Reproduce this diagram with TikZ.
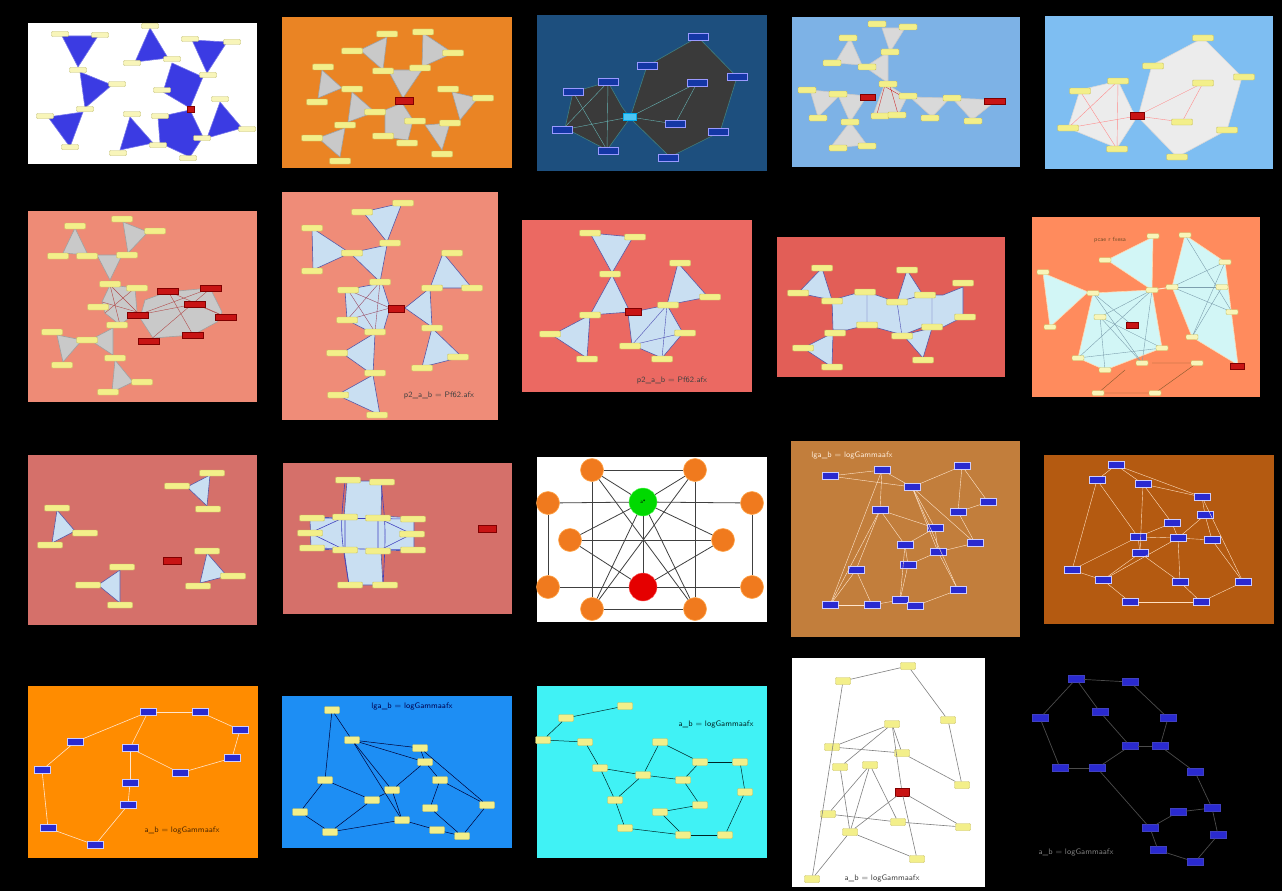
\documentclass[tikz,border=0pt]{standalone}
\definecolor{triblue}{HTML}{3B3BE3}
\definecolor{pTwo}{HTML}{EA8424}
\definecolor{pThree}{HTML}{1D4F7E}
\definecolor{pFour}{HTML}{7DB2E6}
\definecolor{pFive}{HTML}{7EBEF2}
\definecolor{pSix}{HTML}{EE8B76}
\definecolor{pSeven}{HTML}{EF8C78}
\definecolor{pEight}{HTML}{EB6962}
\definecolor{pNine}{HTML}{E25E57}
\definecolor{pTen}{HTML}{FF8B5D}
\definecolor{pEleven}{HTML}{D5706A}
\definecolor{pFourteen}{HTML}{C27E3C}
\definecolor{pFifteen}{HTML}{B45A11}
\definecolor{pSixteen}{HTML}{FF8C00}
\definecolor{pSeventeen}{HTML}{1D8EF4}
\definecolor{pEighteen}{HTML}{40F2F5}
\definecolor{lgray}{HTML}{C9C9C9}
\definecolor{lblue}{HTML}{C9DFF2}
\definecolor{lcyan}{HTML}{D2F6F6}
\definecolor{darkpoly}{HTML}{3A3A3A}
\definecolor{labfill}{HTML}{F3EF8A}
\definecolor{labdraw}{HTML}{C8C060}
\definecolor{bluelab}{HTML}{2A2AD0}
\definecolor{redbarc}{HTML}{C81414}
\definecolor{orangec}{HTML}{F07A1E}
\newcommand\mklabs[3]{\foreach \x/\y [count=\i] in {#3} {\node[#2] (#1-\i) at (\x,\y) {};}}
\newcommand\mkedges[3]{\foreach \a/\b in {#3} {\draw[#2] (#1-\a) -- (#1-\b);}}
\begin{document}
\begin{tikzpicture}[x=1pt,y=-1pt,
  ylab/.style={draw=labdraw, fill=labfill, line width=0.4pt, minimum width=21pt, minimum height=6pt, inner sep=0pt, rounded corners=1pt},
  slab/.style={draw=labdraw, fill=labfill, line width=0.4pt, minimum width=15pt, minimum height=7pt, inner sep=0pt, rounded corners=1pt},
  blab/.style={draw=white!80!blue, fill=bluelab, line width=0.4pt, minimum width=16pt, minimum height=7pt, inner sep=0pt},
  dlab/.style={draw=blue!40!white, fill=pThree!70!blue, line width=0.4pt, minimum width=20pt, minimum height=7pt, inner sep=0pt},
  redbox/.style={draw=red!50!black, fill=redbarc, line width=0.3pt, minimum width=20pt, minimum height=6pt, inner sep=0pt},
  orb/.style={circle, fill=orangec, draw=orange!70, line width=0.6pt, minimum size=23pt, inner sep=0pt},
  polyedge/.style={line width=0.6pt},
  thinline/.style={line width=0.4pt},
  title/.style={font=\sffamily\fontsize{8}{9}\selectfont, inner sep=0pt}]
\useasboundingbox (0,0) rectangle (1282,891);
\fill[black] (0,0) rectangle (1282,891);

% ---------------- Panel 1
\fill[white] (28,23) rectangle (257,164);
\begin{scope}[fill=triblue, draw=triblue!70!white, polyedge]
\filldraw (62,36)--(98,36)--(78,67)--cycle;
\filldraw (80,72)--(112,85)--(85,108)--cycle;
\filldraw (48,117)--(83,112)--(70,147)--cycle;
\filldraw (150,28)--(168,58)--(135,62)--cycle;
\filldraw (192,40)--(227,42)--(207,73)--cycle;
\filldraw (172,63)--(203,77)--(190,108)--(163,92)--cycle;
\filldraw (130,117)--(153,143)--(120,150)--cycle;
\filldraw (158,117)--(190,110)--(203,137)--(190,157)--(160,143)--cycle;
\filldraw (220,102)--(242,128)--(207,138)--cycle;
\end{scope}
\mklabs{pa}{ylab,minimum width=17pt,minimum height=5pt,fill=labfill!60!white,draw=labfill!80!black}{60/34,100/35,78/70,117/84,85/109,45/116,70/147,118/153,132/114,160/116,150/26,132/63,172/59,190/39,232/42,208/75,162/90,220/99,247/129,202/138,158/145,188/158}
\node[redbox, minimum width=7pt, minimum height=6pt] (pa-r) at (191,109) {};

% ---------------- Panel 2
\fill[pTwo] (282,17) rectangle (512,168);
\begin{scope}[fill=lgray, draw=lgray!80!black, polyedge]
\filldraw (360,50)--(387,37)--(383,70)--cycle;
\filldraw (423,33)--(453,53)--(422,67)--cycle;
\filldraw (388,70)--(422,70)--(403,98)--cycle;
\filldraw (322,70)--(342,88)--(318,98)--cycle;
\filldraw (352,92)--(375,112)--(348,122)--cycle;
\filldraw (318,138)--(345,128)--(340,157)--cycle;
\filldraw (385,110)--(402,103)--(413,120)--(408,140)--(385,137)--cycle;
\filldraw (425,125)--(450,123)--(442,150)--cycle;
\filldraw (452,92)--(478,98)--(460,120)--cycle;
\end{scope}
\mklabs{pb}{ylab}{387/34,352/51,383/71,423/32,453/53,420/68,323/67,352/89,317/102,375/112,345/125,312/138,340/161,383/136,407/143,415/121,450/123,442/154,448/89,483/98}
\node[redbox, minimum width=18pt, minimum height=7pt] (pb-r) at (404,101) {};

% ---------------- Panel 3
\fill[pThree] (537,15) rectangle (767,171);
\begin{scope}[fill=darkpoly, draw=teal!50!gray, polyedge]
\filldraw (573,92)--(608,82)--(622,107)--(630,118)--(607,150)--(565,128)--cycle;
\filldraw (630,118)--(647,66)--(698,37)--(737,77)--(720,132)--(670,157)--cycle;
\end{scope}
\begin{scope}[draw=teal!60!white, thinline]
\draw (573,92)--(607,150); \draw (608,82)--(562,130); \draw (608,82)--(607,150);
\draw (562,130)--(630,117); \draw (630,117)--(697,83); \draw (630,117)--(675,124); \draw (697,83)--(675,124);
\end{scope}
\mklabs{pc}{dlab}{573/92,608/82,562/130,608/151,647/66,698/37,737/77,697/83,675/124,718/132,668/158}
\node[fill=cyan!70!white, draw=cyan, minimum width=13pt, minimum height=7pt, inner sep=0pt] (pc-r) at (630,117) {};

% ---------------- Panel 4
\fill[pFour] (792,17) rectangle (1020,167);
\begin{scope}[fill=lgray!70!white, draw=lgray, polyedge]
\filldraw (882,28)--(905,28)--(890,52)--cycle;
\filldraw (850,38)--(835,63)--(862,65)--cycle;
\filldraw (888,52)--(865,67)--(888,83)--cycle;
\filldraw (810,90)--(842,93)--(818,117)--cycle;
\filldraw (837,93)--(867,96)--(850,122)--cycle;
\filldraw (850,122)--(830,148)--(867,145)--cycle;
\filldraw (885,83)--(907,97)--(898,115)--(873,115)--cycle;
\filldraw (910,97)--(950,98)--(932,117)--cycle;
\filldraw (952,98)--(997,100)--(972,120)--cycle;
\end{scope}
\draw[red!60!gray, thinline] (885,85)--(877,114) (890,86)--(898,114) (884,86)--(905,98);
\mklabs{pd}{ylab,minimum width=18pt}{877/24,908/27,848/38,832/63,867/67,890/52,888/84,807/90,838/94,818/118,850/122,838/148,867/146,908/96,880/116,897/115,952/98,930/118,973/121}
\node[redbox, minimum width=15pt] (pd-r1) at (868,97) {};
\node[redbox, minimum width=21pt] (pd-r2) at (995,101) {};

% ---------------- Panel 5
\fill[pFive] (1045,16) rectangle (1273,169);
\begin{scope}[fill=gray!15!white, draw=gray!30!white, polyedge]
\filldraw (1080,90)--(1118,81)--(1132,110)--(1137,117)--(1117,148)--(1068,128)--cycle;
\filldraw (1138,117)--(1152,65)--(1203,38)--(1242,77)--(1227,130)--(1177,157)--cycle;
\end{scope}
\begin{scope}[draw=red!45!white, thinline]
\draw (1080,91)--(1117,149); \draw (1118,81)--(1068,128); \draw (1118,81)--(1117,149);
\draw (1068,128)--(1137,116); \draw (1137,116)--(1203,83); \draw (1137,116)--(1182,122); \draw (1203,83)--(1182,122);
\end{scope}
\mklabs{pe}{ylab}{1080/91,1118/81,1068/128,1117/149,1153/66,1203/38,1244/77,1203/83,1182/122,1227/130,1177/157}
\node[redbox, minimum width=14pt, minimum height=7pt] (pe-r) at (1137,116) {};

% ---------------- Panel 6
\fill[pSix] (28,211) rectangle (257,402);
\begin{scope}[fill=lgray, draw=lgray!80!black, polyedge]
\filldraw (75,228)--(63,253)--(88,255)--cycle;
\filldraw (123,222)--(148,232)--(128,253)--cycle;
\filldraw (97,255)--(122,255)--(110,280)--cycle;
\filldraw (110,285)--(135,288)--(137,312)--(120,325)--(105,313)--(102,302)--cycle;
\filldraw (57,335)--(82,340)--(63,362)--cycle;
\filldraw (113,328)--(90,340)--(113,355)--cycle;
\filldraw (115,360)--(133,382)--(112,392)--cycle;
\filldraw (145,300)--(167,292)--(210,288)--(222,312)--(217,322)--(193,335)--(153,338)--(140,318)--cycle;
\end{scope}
\begin{scope}[draw=red!40!gray, thinline]
\draw (110,285)--(120,325); \draw (135,288)--(105,313); \draw (110,285)--(137,312); \draw (102,302)--(137,312);
\draw (168,291)--(193,335); \draw (168,291)--(226,317); \draw (211,288)--(149,341); \draw (195,304)--(138,315); \draw (195,304)--(226,317); \draw (138,315)--(211,288);
\end{scope}
\mklabs{pf}{ylab}{75/226,58/256,87/256,122/219,155/231,127/255,110/284,137/288,98/307,117/325,52/332,87/340,62/365,115/358,142/382,108/392}
\foreach \x/\y [count=\i] in {168/291,211/288,195/304,226/317,138/315,149/341,193/335} {\node[redbox, minimum width=21pt] (pf-r\i) at (\x,\y) {};}

% ---------------- Panel 7
\fill[pSeven] (282,192) rectangle (498,420);
\begin{scope}[fill=lblue, draw=gray!70!blue, polyedge]
\filldraw (363,212)--(402,203)--(387,242)--cycle;
\filldraw (312,228)--(350,253)--(313,270)--cycle;
\filldraw (350,253)--(387,245)--(380,282)--cycle;
\filldraw (345,290)--(382,283)--(390,308)--(383,332)--(372,333)--(347,320)--cycle;
\filldraw (405,308)--(430,288)--(432,327)--cycle;
\filldraw (443,253)--(472,288)--(430,288)--cycle;
\filldraw (432,328)--(462,357)--(422,367)--cycle;
\filldraw (375,333)--(373,375)--(342,353)--cycle;
\filldraw (373,375)--(380,415)--(337,395)--cycle;
\end{scope}
\begin{scope}[draw=gray!60!purple, thinline]
\draw (348,290)--(375,332); \draw (380,282)--(347,320); \draw (348,290)--(390,308); \draw (375,332)--(380,282); \draw (347,320)--(390,308);
\end{scope}
\mklabs{pg}{ylab}{403/203,362/212,312/228,312/271,352/253,390/243,380/282,348/290,347/320,375/332,432/288,452/253,472/288,432/328,458/357,422/368,337/353,375/373,338/395,377/415}
\node[redbox, minimum width=16pt, minimum height=7pt] (pg-r) at (396,309) {};
\node[title, text=darkgray] (pg-t) at (439,395) {p2\_a\_b = Pf62.afx};

% ---------------- Panel 8
\fill[pEight] (522,220) rectangle (752,392);
\begin{scope}[fill=lblue, draw=gray!70!blue, polyedge]
\filldraw (590,233)--(633,237)--(612,273)--cycle;
\filldraw (612,275)--(630,312)--(590,315)--cycle;
\filldraw (590,315)--(587,358)--(552,335)--cycle;
\filldraw (678,263)--(708,297)--(667,305)--cycle;
\filldraw (628,313)--(667,305)--(683,333)--(662,358)--(632,345)--cycle;
\end{scope}
\begin{scope}[draw=gray!60!blue, thinline]
\draw (667,305)--(632,345); \draw (667,305)--(662,358); \draw (632,345)--(683,333);
\end{scope}
\mklabs{ph}{ylab}{590/233,635/237,610/274,590/315,550/334,587/359,680/263,710/297,668/305,685/333,630/346,662/359}
\node[redbox, minimum width=16pt, minimum height=7pt] (ph-r) at (633,312) {};
\node[title, text=darkgray] (ph-t) at (672,380) {p2\_a\_b = Pf62.afx};

% ---------------- Panel 9
\fill[pNine] (777,237) rectangle (1005,377);
\begin{scope}[fill=lblue, draw=gray!70!blue, polyedge]
\filldraw (832,300)--(857,293)--(867,292)--(897,302)--(920,295)--(943,295)--(963,287)--(963,317)--(943,327)--(923,327)--(903,335)--(867,325)--(847,330)--(833,330)--cycle;
\filldraw (822,268)--(798,293)--(832,300)--cycle;
\filldraw (907,270)--(897,302)--(923,295)--cycle;
\filldraw (833,333)--(803,348)--(832,367)--cycle;
\filldraw (903,335)--(923,358)--(932,328)--cycle;
\end{scope}
\draw[gray!60!blue, thinline] (867,292)--(867,325) (897,302)--(902,336) (932,295)--(932,327);
\mklabs{pi}{ylab}{822/268,798/293,832/301,865/292,897/302,907/270,925/295,963/283,965/317,932/327,902/336,867/325,835/333,803/348,832/367,923/360}

% ---------------- Panel 10
\fill[pTen] (1032,217) rectangle (1260,397);
\begin{scope}[fill=lcyan, draw=white!70!orange, polyedge]
\filldraw (1043,273)--(1088,292)--(1050,327)--cycle;
\filldraw (1153,237)--(1152,290)--(1107,260)--cycle;
\filldraw (1093,293)--(1152,290)--(1162,348)--(1105,370)--(1078,358)--cycle;
\filldraw (1172,287)--(1185,235)--(1225,262)--(1238,365)--(1192,337)--cycle;
\end{scope}
\begin{scope}[draw=cyan!30!gray, thinline]
\draw (1100,317)--(1152,290); \draw (1100,317)--(1162,348); \draw (1100,317)--(1105,370);
\draw (1078,358)--(1152,290); \draw (1093,293)--(1142,363); \draw (1100,317)--(1142,363);
\draw (1152,290)--(1142,363); \draw (1078,358)--(1162,348); \draw (1132,325)--(1093,293);
\draw (1172,287)--(1225,262); \draw (1172,287)--(1222,287); \draw (1185,235)--(1232,312);
\draw (1225,262)--(1192,337); \draw (1222,287)--(1192,337); \draw (1172,287)--(1232,312);
\draw[white!80!orange, line width=1pt] (1152,290)--(1172,287);
\end{scope}
\draw[brown!70!black, thinline] (1152,363)--(1197,363) (1125,370)--(1098,393) (1197,363)--(1155,393) (1098,393)--(1155,393);
\mklabs{pj}{ylab,minimum width=12pt,minimum height=5pt,fill=labfill!60!white}{1043/272,1093/293,1050/327,1153/236,1105/260,1152/290,1162/348,1105/370,1078/358,1100/317,1185/235,1225/262,1172/287,1222/287,1232/312,1192/337,1142/363,1197/363,1098/393,1155/393}
\node[redbox, minimum width=12pt] (pj-r1) at (1132,325) {};
\node[redbox, minimum width=14pt] (pj-r2) at (1237,366) {};
\node[title, text=brown!60!black, font=\sffamily\fontsize{6}{7}\selectfont] (pj-t) at (1110,240) {pcae r fxesa};

% ---------------- Panel 11
\fill[pEleven] (28,455) rectangle (257,625);
\begin{scope}[fill=lblue, draw=gray!70!blue, polyedge]
\filldraw (57,510)--(75,531)--(52,543)--cycle;
\filldraw (210,475)--(207,506)--(187,487)--cycle;
\filldraw (120,570)--(98,585)--(120,603)--cycle;
\filldraw (207,553)--(227,576)--(200,583)--cycle;
\end{scope}
\mklabs{pk}{ylab,minimum width=25pt}{57/508,85/533,50/545,212/473,177/486,208/509,122/567,88/585,120/605,207/551,233/576,198/586}
\node[redbox, minimum width=18pt, minimum height=7pt] (pk-r) at (172,561) {};

% ---------------- Panel 12
\fill[pEleven] (283,463) rectangle (512,614);
\filldraw[fill=lblue, draw=gray!70!blue, polyedge] (347,481)--(382,481)--(381,516)--(414,518)--(414,550)--(381,551)--(383,585)--(349,585)--(344,550)--(311,549)--(310,518)--(344,517)--cycle;
\begin{scope}[draw=gray!50!blue, line width=0.6pt]
\draw (310,533)--(345,517) (310,533)--(345,550) (412,534)--(378,518) (412,534)--(378,551);
\draw (345,481) .. controls (340,530) .. (349,585);
\draw (381,482) .. controls (386,530) .. (383,585);
\draw (345,517)--(345,550) (378,518)--(378,551) (312,518)--(413,519) (312,548)--(413,550);
\end{scope}
\mklabs{pl}{ylab,minimum width=25pt}{348/480,382/482,312/518,345/517,378/518,413/519,310/533,412/534,312/548,345/550,378/551,413/550,350/585,385/585}
\node[redbox, minimum width=18pt, minimum height=7pt] (pl-r) at (487,529) {};

% ---------------- Panel 13
\fill[white] (537,457) rectangle (767,622);
\foreach \n/\x/\y in {1/592/470,2/695/470,3/548/503,4/752/503,5/570/540,6/723/540,7/548/587,8/752/587,9/592/609,10/695/609} {\node[orb] (pm-\n) at (\x,\y) {};}
\node[circle, fill=green!85!black, draw=green!60, minimum size=28pt, inner sep=0pt, font=\sffamily\fontsize{5}{5}\selectfont] (pm-G) at (643,502) {a*};
\node[circle, fill=red!90!black, draw=red!60, minimum size=28pt, inner sep=0pt] (pm-R) at (643,587) {};
\mkedges{pm}{gray!50!black, line width=0.8pt}{1/2,3/G,G/4,5/6,7/R,R/8,9/10,3/7,4/8,1/9,2/10,G/R,1/10,2/9,1/G,2/G,G/5,G/6,G/9,G/10,R/5,R/6}

% ---------------- Panel 14
\fill[pFourteen] (791,441) rectangle (1020,637);
\mklabs{pn}{blab}{830/476,882/470,962/466,912/487,988/502,958/512,880/510,935/528,975/543,905/545,938/552,908/565,856/570,958/590,900/600,830/605,872/605,915/606}
\mkedges{pn}{white!80!orange, thinline}{1/2,1/4,2/4,2/7,3/4,3/6,3/5,4/8,4/9,4/11,5/6,6/9,7/8,7/10,7/13,7/16,8/11,8/10,9/11,10/12,10/15,11/12,11/14,12/15,13/16,13/17,14/18,15/17,15/18,16/17,4/14,2/16}
\node[title, text=white!85!orange] (pn-t) at (852,455) {lga\_b = logGammaafx};

% ---------------- Panel 15
\fill[pFifteen] (1044,455) rectangle (1274,624);
\mklabs{po}{blab}{1116/465,1097/480,1143/484,1202/497,1205/515,1172/523,1138/537,1178/538,1212/540,1140/553,1072/570,1243/582,1103/580,1180/582,1130/602,1201/602}
\mkedges{po}{white!75!orange, thinline}{1/2,1/3,1/4,2/11,2/7,3/6,3/4,4/5,4/12,5/9,6/8,7/8,7/10,7/11,8/9,8/14,8/13,9/12,10/13,10/14,11/13,13/15,14/16,15/16,12/16,6/7,5/8,3/10}

% ---------------- Panel 16
\fill[pSixteen] (28,686) rectangle (258,858);
\mklabs{pp}{blab}{148/712,200/712,240/730,75/742,130/748,232/758,42/770,180/773,130/783,128/805,48/828,95/845}
\mkedges{pp}{white!80!orange, line width=0.6pt}{1/2,2/3,3/6,1/4,1/5,4/7,7/11,11/12,12/10,10/9,9/5,5/8,8/6}
\node[title, text=black!70!orange] (pp-t) at (182,830) {a\_b = logGammaafx};

% ---------------- Panel 17
\fill[pSeventeen] (282,696) rectangle (512,848);
\mklabs{pq}{slab}{332/710,352/740,420/748,425/762,325/780,392/790,440/780,372/800,402/820,437/830,330/832,430/808,487/805,462/836,300/812}
\mkedges{pq}{black!80!blue, line width=0.5pt}{1/2,1/5,2/3,2/6,2/9,3/4,3/13,4/6,4/7,5/15,5/8,6/8,6/9,7/12,7/13,8/11,9/10,9/11,10/14,12/14,13/14,15/11,2/4}
\node[title, text=black!70!blue] (pq-t) at (412,706) {lga\_b = logGammaafx};

% ---------------- Panel 18
\fill[pEighteen] (537,686) rectangle (767,858);
\mklabs{pr}{slab}{625/706,566/718,543/740,585/742,600/768,660/742,700/762,643/775,683/780,740/762,745/792,615/800,700/805,660/812,683/835,625/828,725/835}
\mkedges{pr}{black!70!teal, line width=0.5pt}{1/2,2/3,3/4,4/5,5/8,6/7,7/10,10/11,11/17,17/15,15/16,16/12,12/8,8/6,7/9,9/13,13/14,14/15,8/9,5/12}
\node[title, text=black!70!teal] (pr-t) at (716,724) {a\_b = logGammaafx};

% ---------------- Panel 19
\fill[white] (792,658) rectangle (985,887);
\mklabs{ps}{slab}{908/666,843/681,948/720,892/724,832/747,902/753,840/767,870/765,962/785,828/814,898/822,850/832,963/827,917/859,812/879}
\node[redbox, minimum width=14pt, minimum height=8pt] (ps-r) at (902,792) {};
\mkedges{ps}{gray, line width=0.6pt}{1/2,1/3,3/9,2/15,4/5,4/7,5/6,6/9,4/6,8/10,8/12,8/11,7/12,10/11,11/13,12/14,12/15,4/r,r/13,r/12,r/14}
\node[title, text=darkgray] (ps-t) at (882,878) {a\_b = logGammaafx};

% ---------------- Panel 20
\mklabs{pt}{blab,draw=blue!50!gray}{1076/679,1130/682,1168/718,1160/746,1130/746,1100/712,1040/718,1060/768,1097/768,1195/772,1212/808,1178/812,1150/828,1158/850,1195/862,1218/835}
\mkedges{pt}{gray!60!black, line width=0.7pt}{1/2,2/3,3/4,4/5,5/6,6/1,1/7,7/8,8/9,9/5,9/13,13/14,14/15,15/16,16/11,11/10,10/4,12/13,12/11}
\node[title, text=gray] (pt-t) at (1076,852) {a\_b = logGammaafx};
\end{tikzpicture}
\end{document}
